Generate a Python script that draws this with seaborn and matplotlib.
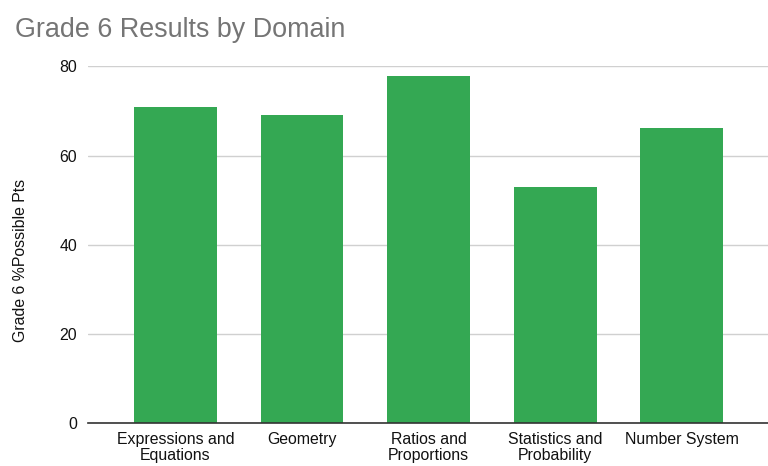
import matplotlib
matplotlib.use("Agg")
import matplotlib.pyplot as plt
import seaborn as sns
import pandas as pd

categories = ["Expressions and\nEquations", "Geometry", "Ratios and\nProportions",
              "Statistics and\nProbability", "Number System"]
values = [70.9, 69.1, 77.8, 52.9, 66.1]
yticks = [0, 20, 40, 60, 80]

sns.set_theme(style="white")
plt.rcParams['font.family'] = ['Liberation Sans', 'DejaVu Sans']

df = pd.DataFrame({"Domain": categories, "Pct": values})

fig = plt.figure(figsize=(7.68, 4.66), dpi=100)
ax = fig.add_axes([88/768, 1 - 423.3/466, 1 - 88/768, (423.3 - 66.3)/466])

sns.barplot(data=df, x="Domain", y="Pct", color="#34a853", saturation=1,
            width=0.655, ax=ax, zorder=3, linewidth=0)

ax.set_ylim(0, 80)
ax.set_xlim(-0.69, 4.68)
ax.set_yticks(yticks)
ax.set_yticklabels([str(t) for t in yticks])
ax.yaxis.grid(True, color="#d0d0d0", linewidth=1, zorder=0)
ax.set_axisbelow(True)
for s in ["top", "right", "left"]:
    ax.spines[s].set_visible(False)
ax.spines["bottom"].set_color("#333333")
ax.spines["bottom"].set_linewidth(1.2)
ax.spines["bottom"].set_zorder(4)
ax.tick_params(axis="both", length=0, labelsize=11.4, colors="#111111")
ax.tick_params(axis="y", pad=8)
ax.tick_params(axis="x", pad=6)
for lbl in ax.get_xticklabels():
    lbl.set_linespacing(1.1)
ax.set_xlabel("")
ax.set_ylabel("Grade 6 %Possible Pts", fontsize=11.4, color="#111111")
ax.yaxis.set_label_coords((21 - 88) / (768 - 88), (423.3 - 260) / (423.3 - 66.3))
ax.yaxis.label.set_va("center")

fig.text(15/768, 1 - 37/466, "Grade 6 Results by Domain", fontsize=19.4,
         color="#757575", va="baseline", ha="left")

fig.savefig("out.png", dpi=100)
